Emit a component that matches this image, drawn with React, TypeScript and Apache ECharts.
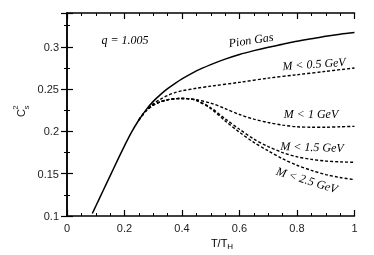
import React, { useEffect, useRef } from "react";
import * as echarts from "echarts";

const pionX = [0.088, 0.1, 0.125, 0.15, 0.175, 0.2, 0.225, 0.25, 0.275, 0.3, 0.325, 0.35, 0.375, 0.4, 0.45, 0.5, 0.55, 0.6, 0.65, 0.7, 0.75, 0.8, 0.85, 0.9, 0.95, 1.0];
const pionY = [0.103, 0.1115, 0.1295, 0.1475, 0.1655, 0.183, 0.1995, 0.2135, 0.2255, 0.2355, 0.2435, 0.2505, 0.2565, 0.262, 0.2715, 0.279, 0.2855, 0.291, 0.2955, 0.2995, 0.303, 0.3065, 0.3095, 0.3125, 0.315, 0.317];

const m05X = [0.25, 0.275, 0.3, 0.325, 0.35, 0.375, 0.4, 0.45, 0.5, 0.6, 0.7, 0.8, 0.9, 1.0];
const m05Y = [0.2135, 0.2248, 0.2325, 0.238, 0.2425, 0.2458, 0.248, 0.251, 0.2535, 0.258, 0.263, 0.267, 0.271, 0.275];

const lowX = [0.25, 0.275, 0.3, 0.325, 0.35, 0.375, 0.4, 0.425, 0.45, 0.5, 0.55, 0.6, 0.65, 0.7, 0.75, 0.8, 0.85, 0.9, 0.95, 1.0];
const m1Y = [0.2135, 0.2245, 0.231, 0.235, 0.2375, 0.2387, 0.239, 0.2385, 0.2375, 0.2335, 0.227, 0.22, 0.2145, 0.2105, 0.2075, 0.2055, 0.205, 0.205, 0.2055, 0.206];
const m15Y = [0.2135, 0.2245, 0.231, 0.235, 0.2375, 0.2387, 0.239, 0.2385, 0.237, 0.228, 0.215, 0.2025, 0.191, 0.182, 0.175, 0.17, 0.167, 0.165, 0.164, 0.1635];
const m25Y = [0.2135, 0.2245, 0.231, 0.235, 0.2375, 0.2387, 0.239, 0.2385, 0.2365, 0.227, 0.2125, 0.199, 0.187, 0.177, 0.1675, 0.16, 0.154, 0.149, 0.1455, 0.143];

const zip = (xs: number[], ys: number[]) => xs.map((x, i) => [x, ys[i]]);

const fmt = (v: number) => parseFloat(v.toFixed(3)).toString();

export default function App() {
  const ref = useRef<HTMLDivElement>(null);
  useEffect(() => {
    const chart = echarts.init(ref.current!, null, { renderer: "svg" });
    const sans = "Liberation Sans, Arial, sans-serif";
    const labelFont = { fontFamily: sans, fontSize: 11, color: "#222" };
    const serif = "Liberation Serif, Times New Roman, serif";
    const baseX = {
      type: "value" as const,
      min: 0,
      max: 1,
      interval: 0.2,
      axisLine: { show: true, lineStyle: { color: "#000", width: 1.5 } },
      axisTick: { show: true, inside: true, length: 6, lineStyle: { color: "#000", width: 1.2 } },
      minorTick: { show: true, splitNumber: 4, length: 3, lineStyle: { color: "#000", width: 1 } },
      splitLine: { show: false },
    };
    const baseY = {
      type: "value" as const,
      min: 0.1,
      max: 0.34,
      interval: 0.05,
      axisLine: { show: true, lineStyle: { color: "#000", width: 1.5 } },
      axisTick: { show: true, inside: true, length: 6, lineStyle: { color: "#000", width: 1.2 } },
      minorTick: { show: true, splitNumber: 2, length: 3, lineStyle: { color: "#000", width: 1 } },
      splitLine: { show: false },
    };
    const dash = (name: string, data: number[][]) => ({
      type: "line" as const,
      name,
      data,
      showSymbol: false,
      smooth: 0.3,
      lineStyle: { color: "#000", width: 1.4, type: [3, 2] },
    });
    const label = (text: string, x: number, y: number, rotation = 0) => ({
      type: "text" as const,
      x,
      y,
      rotation,
      style: { text, font: `italic 12px ${serif}`, fill: "#000", align: "center", verticalAlign: "middle" },
    });
    chart.setOption({
      animation: false,
      grid: { left: 67, right: 19.5, top: 13, bottom: 39 },
      xAxis: [
        {
          ...baseX,
          position: "bottom",
          axisLabel: { ...labelFont, margin: 6, formatter: (v: number) => fmt(v) },
        },
        { ...baseX, position: "top", axisLabel: { show: false } },
      ],
      yAxis: [
        {
          ...baseY,
          position: "left",
          axisLabel: { ...labelFont, margin: 8, showMaxLabel: false, formatter: (v: number) => fmt(v) },
        },
        { ...baseY, position: "right", axisLabel: { show: false } },
      ],
      series: [
        {
          type: "line",
          name: "Pion Gas",
          data: zip(pionX, pionY),
          showSymbol: false,
          smooth: 0.3,
          lineStyle: { color: "#000", width: 1.5 },
        },
        dash("M < 0.5 GeV", zip(m05X, m05Y)),
        dash("M < 1 GeV", zip(lowX, m1Y)),
        dash("M < 1.5 GeV", zip(lowX, m15Y)),
        dash("M < 2.5 GeV", zip(lowX, m25Y)),
      ],
      graphic: [
        label("q = 1.005", 125, 40),
        label("Pion Gas", 251, 40, 0.15),
        label("M < 0.5 GeV", 314, 64, 0.07),
        label("M < 1 GeV", 311, 114),
        label("M < 1.5 GeV", 312, 147, -0.03),
        label("M < 2.5 GeV", 307, 180, -0.3),
        {
          type: "text",
          x: 222,
          y: 243,
          style: {
            text: "{a|T/T}{b|H}",
            align: "center",
            verticalAlign: "middle",
            rich: {
              a: { fontFamily: sans, fontSize: 11, color: "#222" },
              b: { fontFamily: sans, fontSize: 8, color: "#222", padding: [6, 0, 0, 0] },
            },
          },
        },
        {
          type: "text",
          x: 20.5,
          y: 113,
          rotation: Math.PI / 2,
          style: { text: "C", font: `11px ${sans}`, fill: "#222", align: "center", verticalAlign: "middle" },
        },
        {
          type: "text",
          x: 15.5,
          y: 107.5,
          rotation: Math.PI / 2,
          style: { text: "2", font: `8px ${sans}`, fill: "#222", align: "center", verticalAlign: "middle" },
        },
        {
          type: "text",
          x: 26,
          y: 107.5,
          rotation: Math.PI / 2,
          style: { text: "s", font: `8px ${sans}`, fill: "#222", align: "center", verticalAlign: "middle" },
        },
      ],
    });
    return () => chart.dispose();
  }, []);
  return <div ref={ref} style={{ position: "fixed", left: 0, top: 0, width: 374, height: 255 }} />;
}
